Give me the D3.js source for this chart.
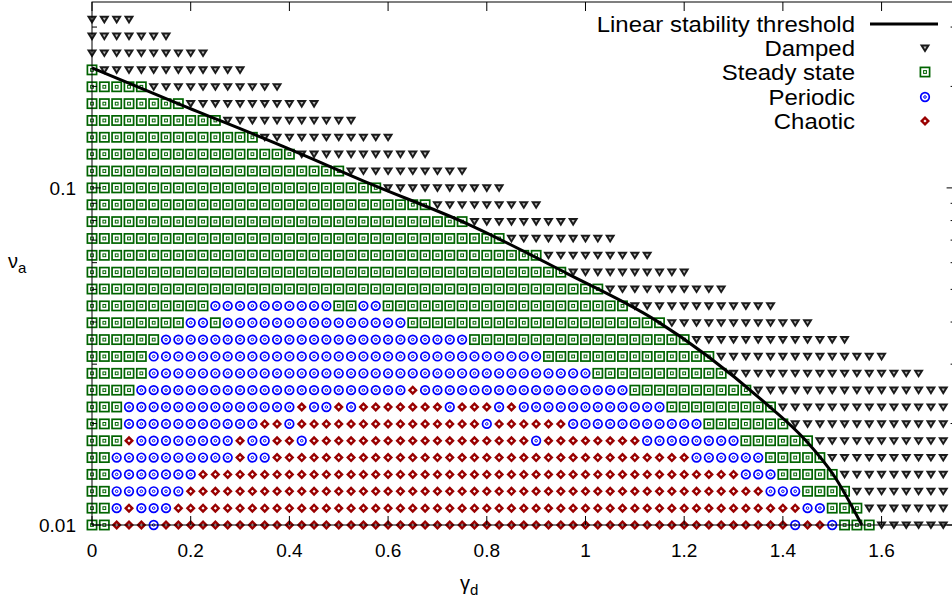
<!DOCTYPE html>
<html><head><meta charset="utf-8">
<script src="https://cdn.jsdelivr.net/npm/d3@7"></script>
<style>
body{margin:0;background:#fff}
svg{display:block}
text{font-family:"Liberation Sans",Arial,Helvetica,sans-serif;fill:#000}
</style>
</head><body>
<svg id="chart" width="952" height="599"></svg>
<script>
// ---------------- data ----------------
const gammaValues = [0,0.025,0.05,0.075,0.1,0.125,0.15,0.175,0.2,0.225,0.25,0.275,0.3,0.325,0.35,0.375,0.4,0.425,0.45,0.475,0.5,0.525,0.55,0.575,0.6,0.625,0.65,0.675,0.7,0.725,0.75,0.775,0.8,0.825,0.85,0.875,0.9,0.925,0.95,0.975,1,1.025,1.05,1.075,1.1,1.125,1.15,1.175,1.2,1.225,1.25,1.275,1.3,1.325,1.35,1.375,1.4,1.425,1.45,1.475,1.5,1.525,1.55,1.575,1.6,1.625,1.65,1.675,1.7,1.725];
// nu_a rows, top to bottom
const nuValues = [0.3162,0.2818,0.2512,0.2239,0.1995,0.1778,0.1585,0.1413,0.1259,0.1122,0.1,0.08913,0.07943,0.07079,0.0631,0.05623,0.05012,0.04467,0.03981,0.03548,0.03162,0.02818,0.02512,0.02239,0.01995,0.01778,0.01585,0.01413,0.01259,0.01122,0.01];
// regime along each row starting at gamma=0 (run-length: class + count); D=Damped S=Steady P=Periodic C=Chaotic
const rowRegimes = [
 "D4",
 "D7",
 "D10",
 "S1 D12",
 "S5 D11",
 "S8 D11",
 "S11 D11",
 "S14 D11",
 "S17 D11",
 "S21 D10",
 "S24 D10",
 "S28 D9",
 "S31 D9",
 "S34 D9",
 "S37 D9",
 "S39 D10",
 "S42 D10",
 "S10 P10 S2 P2 S20 D12",
 "S8 P2 S1 P15 S21 D12",
 "S6 P25 S18 D13",
 "S5 P32 S14 D14",
 "S5 P36 S11 D16",
 "S4 P22 C1 P17 S10 D16",
 "S3 P14 C1 P2 C1 P1 C7 P1 C3 P1 C1 P12 S9 D14",
 "S3 P11 C2 P1 C15 P1 C6 P11 S7 D13",
 "S3 C1 P8 C1 P2 C2 P1 C18 P1 C8 P8 S6 D11",
 "S2 P10 C1 P2 C34 P6 S5 D10",
 "S2 P7 C44 P3 S5 D9",
 "S2 P6 C47 P3 S4 D8",
 "S2 P1 C1 P3 C51 P2 S3 D7",
 "S2 C3 P1 C51 P1 C2 P1 S3 D6"
];
const categoryCodes = ["D","S","P","C"];
const categoryNames = ["Damped","Steady state","Periodic","Chaotic"];
const thresholdGamma = [0,0.178,0.381,0.563,0.766,0.962,1.141,1.357,1.445,1.505,1.56];
const thresholdNu = [0.227,0.177,0.134,0.103,0.0776,0.0558,0.0406,0.0235,0.0179,0.0139,0.01];
const thresholdName = "Linear stability threshold";
const xTicks = [0,0.2,0.4,0.6,0.8,1,1.2,1.4,1.6];
const xTickLabels = ["0","0.2","0.4","0.6","0.8","1","1.2","1.4","1.6"];
const yTicks = [0.01,0.1];
const yTickLabels = ["0.01","0.1"];
const yMinorTicks = [0.02,0.03,0.04,0.05,0.06,0.07,0.08,0.09,0.2,0.3];

// ---------------- layout ----------------
const plot = {left: 92, right: 955.6, top: 2, bottom: 525};
const x = d3.scaleLinear().domain([0, 1.75]).range([plot.left, plot.right]);
const y = d3.scaleLog().domain([0.01, 0.356]).range([plot.bottom, plot.top]);

const colors = {D: "#1a1a1a", S: "#006400", P: "#0000ff", C: "#990000"};

const svg = d3.select("#chart");

// decode rows into points
const points = [];
rowRegimes.forEach((row, i) => {
  let j = 0;
  row.split(" ").forEach(tok => {
    const code = tok[0], n = +tok.slice(1);
    for (let k = 0; k < n; k++, j++) points.push({g: gammaValues[j], nu: nuValues[i], c: code});
  });
});

function drawMarker(sel, code) {
  const col = colors[code];
  if (code === "S") {
    sel.append("rect").attr("x", -4.6).attr("y", -4.6).attr("width", 9.2).attr("height", 9.2)
      .attr("fill", "none").attr("stroke", col).attr("stroke-width", 1.7);
    sel.append("rect").attr("x", -1.4).attr("y", -1.4).attr("width", 2.8).attr("height", 2.8)
      .attr("fill", "none").attr("stroke", col).attr("stroke-width", 1);
  } else if (code === "P") {
    sel.append("circle").attr("r", 4.3).attr("fill", "none").attr("stroke", col).attr("stroke-width", 1.7);
    sel.append("circle").attr("r", 1.3).attr("fill", "none").attr("stroke", col).attr("stroke-width", 1);
  } else if (code === "C") {
    sel.append("path").attr("d", "M0,-5L5,0L0,5L-5,0Z").attr("fill", col);
    sel.append("path").attr("d", "M0,-1.6L1.6,0L0,1.6L-1.6,0Z").attr("fill", "#fff");
  } else {
    sel.append("path").attr("d", "M-5.2,-3.6L5.2,-3.6L0,4.8Z").attr("fill", col);
    sel.append("path").attr("d", "M-1.6,-1.6L1.6,-1.6L0,1.2Z").attr("fill", "#bbb");
  }
}

// markers
const mk = svg.append("g").attr("class", "markers");
points.forEach(p => {
  const g = mk.append("g").attr("transform", `translate(${x(p.g)},${y(p.nu)})`);
  drawMarker(g, p.c);
});

// threshold line
const thr = thresholdGamma.map((g, i) => [g, thresholdNu[i]]);
svg.append("path").datum(thr)
  .attr("d", d3.line().curve(d3.curveMonotoneX).x(d => x(d[0])).y(d => y(d[1])))
  .attr("fill", "none").attr("stroke", "#000").attr("stroke-width", 3);

// frame
svg.append("rect").attr("x", plot.left).attr("y", plot.top)
  .attr("width", plot.right - plot.left).attr("height", plot.bottom - plot.top)
  .attr("fill", "none").attr("stroke", "#000").attr("stroke-width", 1);

// ticks
const tk = svg.append("g").attr("stroke", "#000").attr("stroke-width", 1);
xTicks.forEach(t => {
  const xx = x(t);
  tk.append("line").attr("x1", xx).attr("x2", xx).attr("y1", plot.bottom).attr("y2", plot.bottom - 9);
  tk.append("line").attr("x1", xx).attr("x2", xx).attr("y1", plot.top).attr("y2", plot.top + 9);
});
yTicks.forEach(t => {
  const yy = y(t);
  tk.append("line").attr("x1", plot.left).attr("x2", plot.left + 9).attr("y1", yy).attr("y2", yy);
  tk.append("line").attr("x1", plot.right).attr("x2", plot.right - 9).attr("y1", yy).attr("y2", yy);
});
yMinorTicks.forEach(t => {
  const yy = y(t);
  tk.append("line").attr("x1", plot.left).attr("x2", plot.left + 5).attr("y1", yy).attr("y2", yy);
  tk.append("line").attr("x1", plot.right).attr("x2", plot.right - 5).attr("y1", yy).attr("y2", yy);
});

// tick labels
const tickFont = 19;
xTicks.forEach((t, i) => {
  svg.append("text").attr("x", x(t)).attr("y", 557).attr("text-anchor", "middle")
    .attr("font-size", tickFont).text(xTickLabels[i]);
});
yTicks.forEach((t, i) => {
  svg.append("text").attr("x", 76).attr("y", y(t) + 7).attr("text-anchor", "end")
    .attr("font-size", tickFont).text(yTickLabels[i]);
});

// axis titles
const xt = svg.append("text").attr("x", 460).attr("y", 590).attr("font-size", 20);
xt.append("tspan").text("γ");
xt.append("tspan").attr("dy", 5).attr("font-size", 15).text("d");
const yt = svg.append("text").attr("x", 8).attr("y", 268).attr("font-size", 20);
yt.append("tspan").text("ν");
yt.append("tspan").attr("dy", 5).attr("font-size", 15).text("a");

// legend
const lg = svg.append("g");
const legY = [24, 48, 72, 97, 121];
const legFont = 21.5, legStretch = 1.115;
function legText(txt, yy) {
  lg.append("text").attr("transform", `translate(855,${yy + 7.7}) scale(${legStretch},1)`)
    .attr("text-anchor", "end").attr("font-size", legFont).text(txt);
}
legText(thresholdName, legY[0]);
lg.append("line").attr("x1", 870).attr("x2", 938).attr("y1", legY[0]).attr("y2", legY[0]).attr("stroke", "#000").attr("stroke-width", 3);
categoryNames.forEach((name, i) => {
  legText(name, legY[i + 1]);
  const g = lg.append("g").attr("transform", `translate(925,${legY[i + 1]})`);
  drawMarker(g, categoryCodes[i]);
});
</script>
</body></html>
